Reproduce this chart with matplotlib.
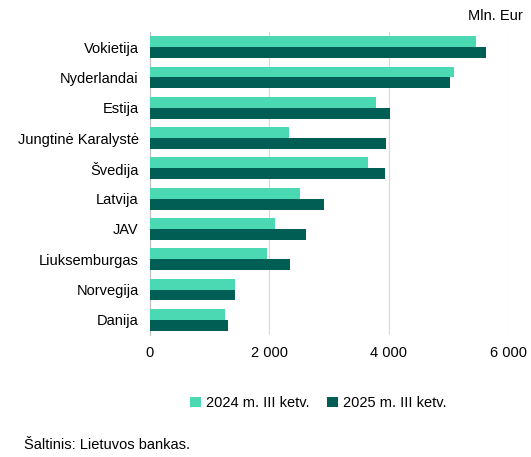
import matplotlib
matplotlib.use("Agg")
import matplotlib.pyplot as plt
import numpy as np

categories = ["Vokietija", "Nyderlandai", "Estija", "Jungtinė Karalystė", "Švedija",
              "Latvija", "JAV", "Liuksemburgas", "Norvegija", "Danija"]
v2024 = [5460, 5095, 3790, 2330, 3650, 2515, 2095, 1960, 1425, 1260]
v2025 = [5630, 5030, 4020, 3955, 3940, 2915, 2615, 2345, 1425, 1310]
xticks = [0, 2000, 4000, 6000]
xticklabels = ["0", "2 000", "4 000", "6 000"]

plt.rcParams['font.family'] = ['Liberation Sans', 'DejaVu Sans']
fig = plt.figure(figsize=(5.31, 4.57), dpi=100)
ax = fig.add_axes([0.282, 0.267, 0.675, 0.663])
y = np.arange(len(categories))
h = 0.36
ax.barh(y - h/2, v2024, height=h, color="#4AD9B2", label="2024 m. III ketv.", zorder=3)
ax.barh(y + h/2, v2025, height=h, color="#005E55", label="2025 m. III ketv.", zorder=3)
ax.set_yticks(y)
ax.set_yticklabels(categories, fontsize=10.5)
ax.set_ylim(len(categories) - 0.5, -0.5)
ax.set_xlim(0, 6000)
ax.set_xticks(xticks)
ax.set_xticklabels(xticklabels, fontsize=10.5)
ax.tick_params(length=0, pad=8)
ax.grid(axis="x", color="#D9D9D9", lw=0.8, zorder=0)
for s in ["top", "right", "bottom"]:
    ax.spines[s].set_visible(False)
ax.spines["left"].set_color("#BFBFBF")
fig.text(0.985, 0.965, "Mln. Eur", ha="right", va="center", fontsize=10.5)
fig.legend(loc="center", bbox_to_anchor=(0.6, 0.118), ncol=2, frameon=False,
           fontsize=10.5, handlelength=0.7, handleheight=0.7, columnspacing=1.2, handletextpad=0.4)
fig.text(0.045, 0.026, "Šaltinis: Lietuvos bankas.", ha="left", va="center", fontsize=10.5)
fig.savefig("out.png", dpi=100)
